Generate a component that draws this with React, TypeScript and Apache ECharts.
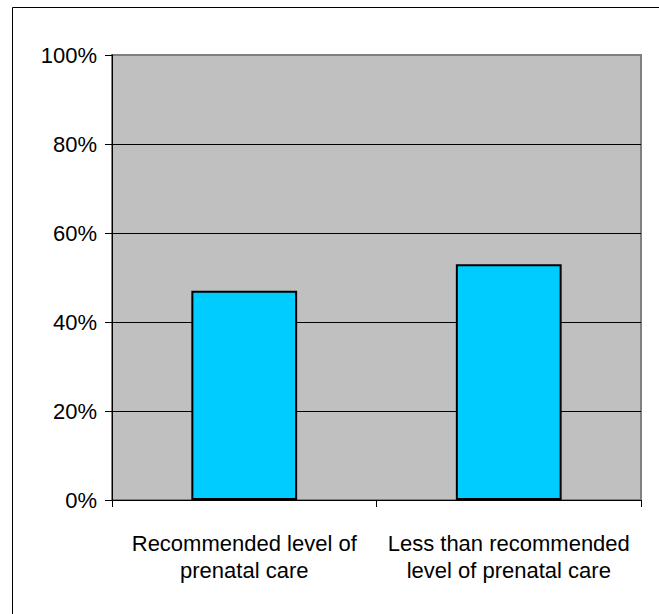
import React, { useEffect, useRef } from "react";
import * as echarts from "echarts";

const categories: string[] = [
  "Recommended level of\nprenatal care",
  "Less than recommended\nlevel of prenatal care",
];
const values: number[] = [47, 53];
const yTicks = { min: 0, max: 100, interval: 20 };

export default function App() {
  const ref = useRef<HTMLDivElement | null>(null);
  useEffect(() => {
    if (!ref.current) return;
    const chart = echarts.init(ref.current, null, { renderer: "svg" });
    const font = '"Liberation Sans", Arial, sans-serif';
    chart.setOption({
      animation: false,
      backgroundColor: "#ffffff",
      textStyle: { fontFamily: font, color: "#000" },
      graphic: [
        {
          type: "rect",
          shape: { x: 12.5, y: 7.5, width: 800, height: 800 },
          style: { fill: "none", stroke: "#000", lineWidth: 1 },
          silent: true,
        },
      ],
      grid: {
        left: 112,
        top: 55,
        width: 529,
        height: 445,
        show: true,
        backgroundColor: "#c0c0c0",
        borderColor: "#808080",
        borderWidth: 2,
        containLabel: false,
      },
      xAxis: {
        type: "category",
        data: categories,
        axisLine: { show: true, lineStyle: { color: "#000", width: 1 } },
        axisTick: { show: true, length: 7, lineStyle: { color: "#000" } },
        axisLabel: {
          interval: 0,
          margin: 30,
          fontSize: 22,
          lineHeight: 27,
          color: "#000",
          fontFamily: font,
          align: "center",
        },
      },
      yAxis: {
        type: "value",
        min: yTicks.min,
        max: yTicks.max,
        interval: yTicks.interval,
        axisLine: { show: true, lineStyle: { color: "#000", width: 1 } },
        axisTick: { show: true, length: 7, lineStyle: { color: "#000" } },
        axisLabel: {
          formatter: "{value}%",
          margin: 15,
          fontSize: 22,
          color: "#000",
          fontFamily: font,
        },
        splitLine: {
          show: true,
          showMinLine: false,
          showMaxLine: false,
          lineStyle: { color: "#000", width: 1 },
        },
      },
      series: [
        {
          type: "bar",
          data: values,
          barCategoryGap: "60%",
          itemStyle: {
            color: "#00ccff",
            borderColor: "#000",
            borderWidth: 2,
          },
        },
      ],
    });
    return () => chart.dispose();
  }, []);
  return (
    <div
      ref={ref}
      style={{ position: "fixed", left: 0, top: 0, width: 659, height: 614 }}
    />
  );
}
